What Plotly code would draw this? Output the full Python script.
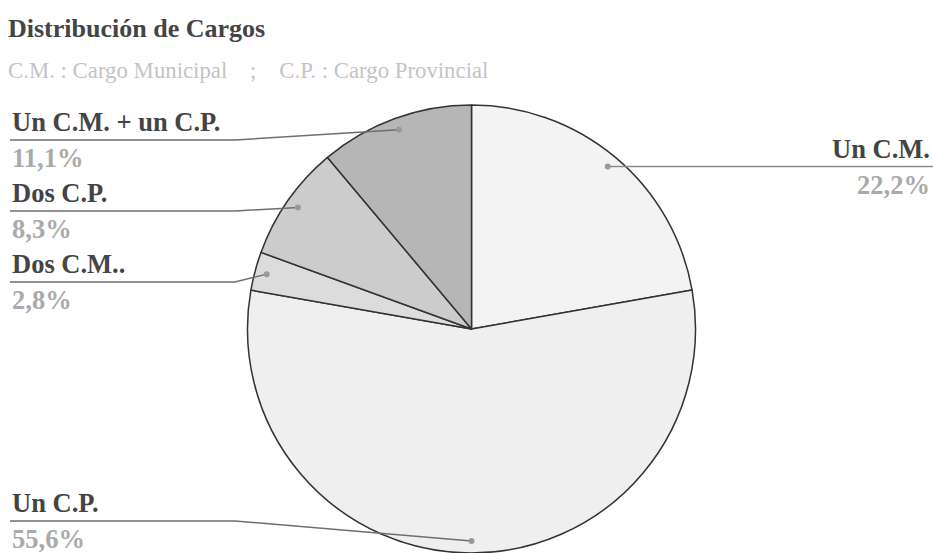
import math
import plotly.graph_objects as go

# ---- data ----
labels = ["Un C.M.", "Un C.P.", "Dos C.M..", "Dos C.P.", "Un C.M. + un C.P."]
counts = [8, 20, 1, 3, 4]
slice_colors = ["#f3f3f3", "#efefef", "#dcdcdc", "#cccccc", "#b6b6b6"]
title_text = "Distribución de Cargos"
subtitle_text = "C.M. : Cargo Municipal" + "\u00a0" * 4 + ";" + "\u00a0" * 4 + "C.P. : Cargo Provincial"

# ---- layout constants (pixels) ----
W, H = 933, 553
TOP = 105          # top of pie
CX = 471.5         # pie centre x
R = (H - TOP) / 2  # pie radius
CY = TOP + R
DOT_R = R - 12
LEFT_X = 10
BEND_X = 235
RIGHT_X = 932
LABEL_MIN_Y, LABEL_MAX_Y, LABEL_GAP = 140, 521, 71
FONT = "Liberation Serif"
LABEL_SIZE = 26.5


def px(x):
    return x / W


def py(y):
    return 1 - y / H


fig = go.Figure(go.Pie(
    labels=labels,
    values=counts,
    sort=False,
    direction="clockwise",
    rotation=0,
    textinfo="none",
    marker=dict(colors=slice_colors, line=dict(color="#333333", width=1.5)),
    domain=dict(x=[2 * CX / W - 1, 1], y=[0, 1 - TOP / H]),
    showlegend=False,
    hovertemplate="%{label}: %{percent}<extra></extra>",
))

total = sum(counts)
cum = 0
items = []
for lab, v in zip(labels, counts):
    mid = (cum + v / 2) / total
    cum += v
    th = 2 * math.pi * mid
    dx = CX + DOT_R * math.sin(th)
    dy = CY - DOT_R * math.cos(th)
    pct = f"{100 * v / total:.1f}".replace(".", ",") + "%"
    items.append(dict(label=lab, pct=pct, x=dx, y=dy,
                      side="right" if math.sin(th) > 1e-6 else "left"))

# simple label stacking per side
for side in ("left", "right"):
    group = sorted([it for it in items if it["side"] == side], key=lambda d: d["y"])
    prev = None
    for it in group:
        ly = max(it["y"], LABEL_MIN_Y)
        if prev is not None:
            ly = max(ly, prev + LABEL_GAP)
        it["ly"] = ly
        prev = ly
    nxt = None
    for it in reversed(group):
        ly = min(it["ly"], LABEL_MAX_Y)
        if nxt is not None:
            ly = min(ly, nxt - LABEL_GAP)
        it["ly"] = ly
        nxt = ly

shapes = []
annotations = []
for it in items:
    if it["side"] == "left":
        path = (f"M {px(LEFT_X)},{py(it['ly'])} L {px(BEND_X)},{py(it['ly'])} "
                f"L {px(it['x'])},{py(it['y'])}")
        tx, anchor = px(LEFT_X), "left"
        lcol = "#6f6f6f"
    else:
        path = (f"M {px(it['x'])},{py(it['y'])} L {px(RIGHT_X + 1)},{py(it['ly'])}")
        tx, anchor = px(RIGHT_X), "right"
        lcol = "#8a8a8a"
    shapes.append(dict(type="path", xref="paper", yref="paper", path=path,
                       line=dict(color=lcol, width=1.5)))
    shapes.append(dict(type="circle", xref="paper", yref="paper",
                       xsizemode="pixel", ysizemode="pixel",
                       xanchor=px(it["x"]), yanchor=py(it["y"]),
                       x0=-3, x1=3, y0=-3, y1=3,
                       fillcolor="#999999", line=dict(width=0)))
    annotations.append(dict(xref="paper", yref="paper", x=tx, y=py(it["ly"] - 1),
                            xanchor=anchor, yanchor="bottom", showarrow=False,
                            text=f"<b>{it['label']}</b>",
                            font=dict(family=FONT, size=LABEL_SIZE, color="#444444")))
    annotations.append(dict(xref="paper", yref="paper", x=tx, y=py(it["ly"] + 1),
                            xanchor=anchor, yanchor="top", showarrow=False,
                            text=f"<b>{it['pct']}</b>",
                            font=dict(family=FONT, size=LABEL_SIZE, color="#aaaaaa")))

annotations.append(dict(xref="paper", yref="paper", x=px(6), y=py(12),
                        xanchor="left", yanchor="top", showarrow=False,
                        text=f"<b>{title_text}</b>",
                        font=dict(family=FONT, size=26, color="#444444")))
annotations.append(dict(xref="paper", yref="paper", x=px(6), y=py(56),
                        xanchor="left", yanchor="top", showarrow=False,
                        text=subtitle_text,
                        font=dict(family=FONT, size=22.8, color="#c4c4c4")))

fig.update_layout(
    width=W, height=H,
    margin=dict(l=0, r=0, t=0, b=0),
    paper_bgcolor="white", plot_bgcolor="white",
    shapes=shapes, annotations=annotations,
)

fig.write_html("out.html", config={"displayModeBar": False},
               post_script="document.body.style.margin='0';document.body.style.overflow='hidden';")
